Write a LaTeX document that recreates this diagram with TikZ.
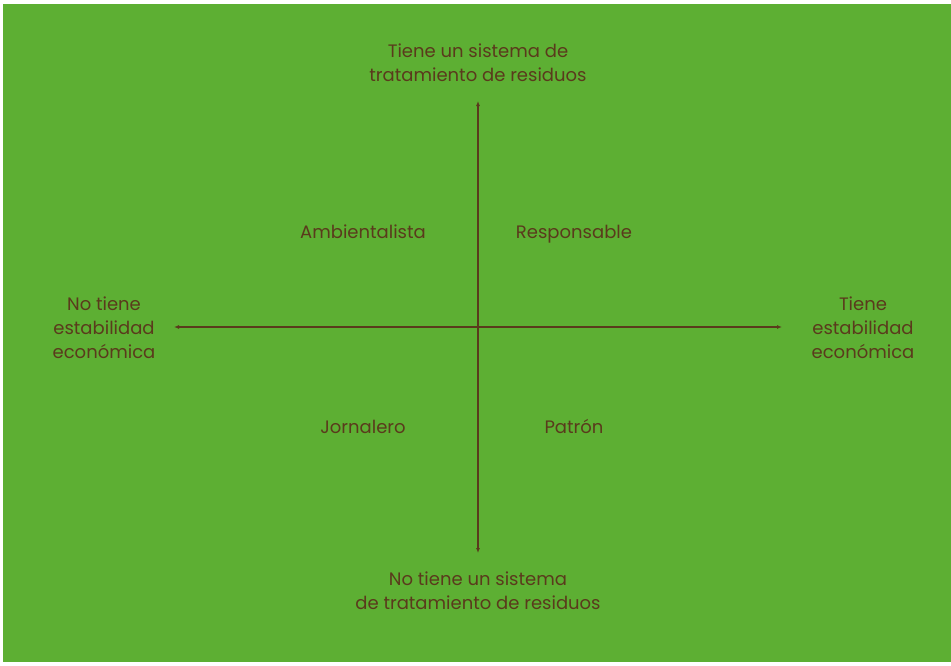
\documentclass[tikz,border=0pt]{standalone}
\usepackage{fontspec}
\setmainfont{Poppins}
\usetikzlibrary{arrows.meta}
\definecolor{bggreen}{HTML}{5DAF33}
\definecolor{ink}{HTML}{5A3A1C}
\begin{document}
\begin{tikzpicture}[x=1pt,y=-1pt,
  lbl/.style={text=ink,font=\fontsize{18}{24}\selectfont,align=center,inner sep=0pt},
  one/.style={lbl,text height=12.5pt,text depth=0pt},
  axis/.style={draw=ink,line width=1.4pt,-{Latex[length=5pt,width=4pt]}}]
\useasboundingbox (0,0) rectangle (951,665);
\fill[white] (0,0) rectangle (951,665);
\fill[bggreen] (3,4) rectangle (951,662);
\coordinate (c) at (478,327);
\coordinate (t) at (478,101);
\coordinate (b) at (478,553);
\coordinate (l) at (174,327);
\coordinate (r) at (782,327);
\draw[axis] (c) -- (t);
\draw[axis] (c) -- (b);
\draw[axis] (c) -- (l);
\draw[axis] (c) -- (r);
\node[lbl] (top) at (478,63) {Tiene un sistema de\\tratamiento de residuos};
\node[lbl] (bot) at (478,591) {No tiene un sistema\\de tratamiento de residuos};
\node[lbl] (left) at (104,328) {No tiene\\estabilidad\\económica};
\node[lbl] (right) at (863,328) {Tiene\\estabilidad\\económica};
\node[one] (q1) at (363,232) {Ambientalista};
\node[one] (q2) at (574,232) {Responsable};
\node[one] (q3) at (363,427) {Jornalero};
\node[one] (q4) at (574,427) {Patrón};
\end{tikzpicture}
\end{document}
